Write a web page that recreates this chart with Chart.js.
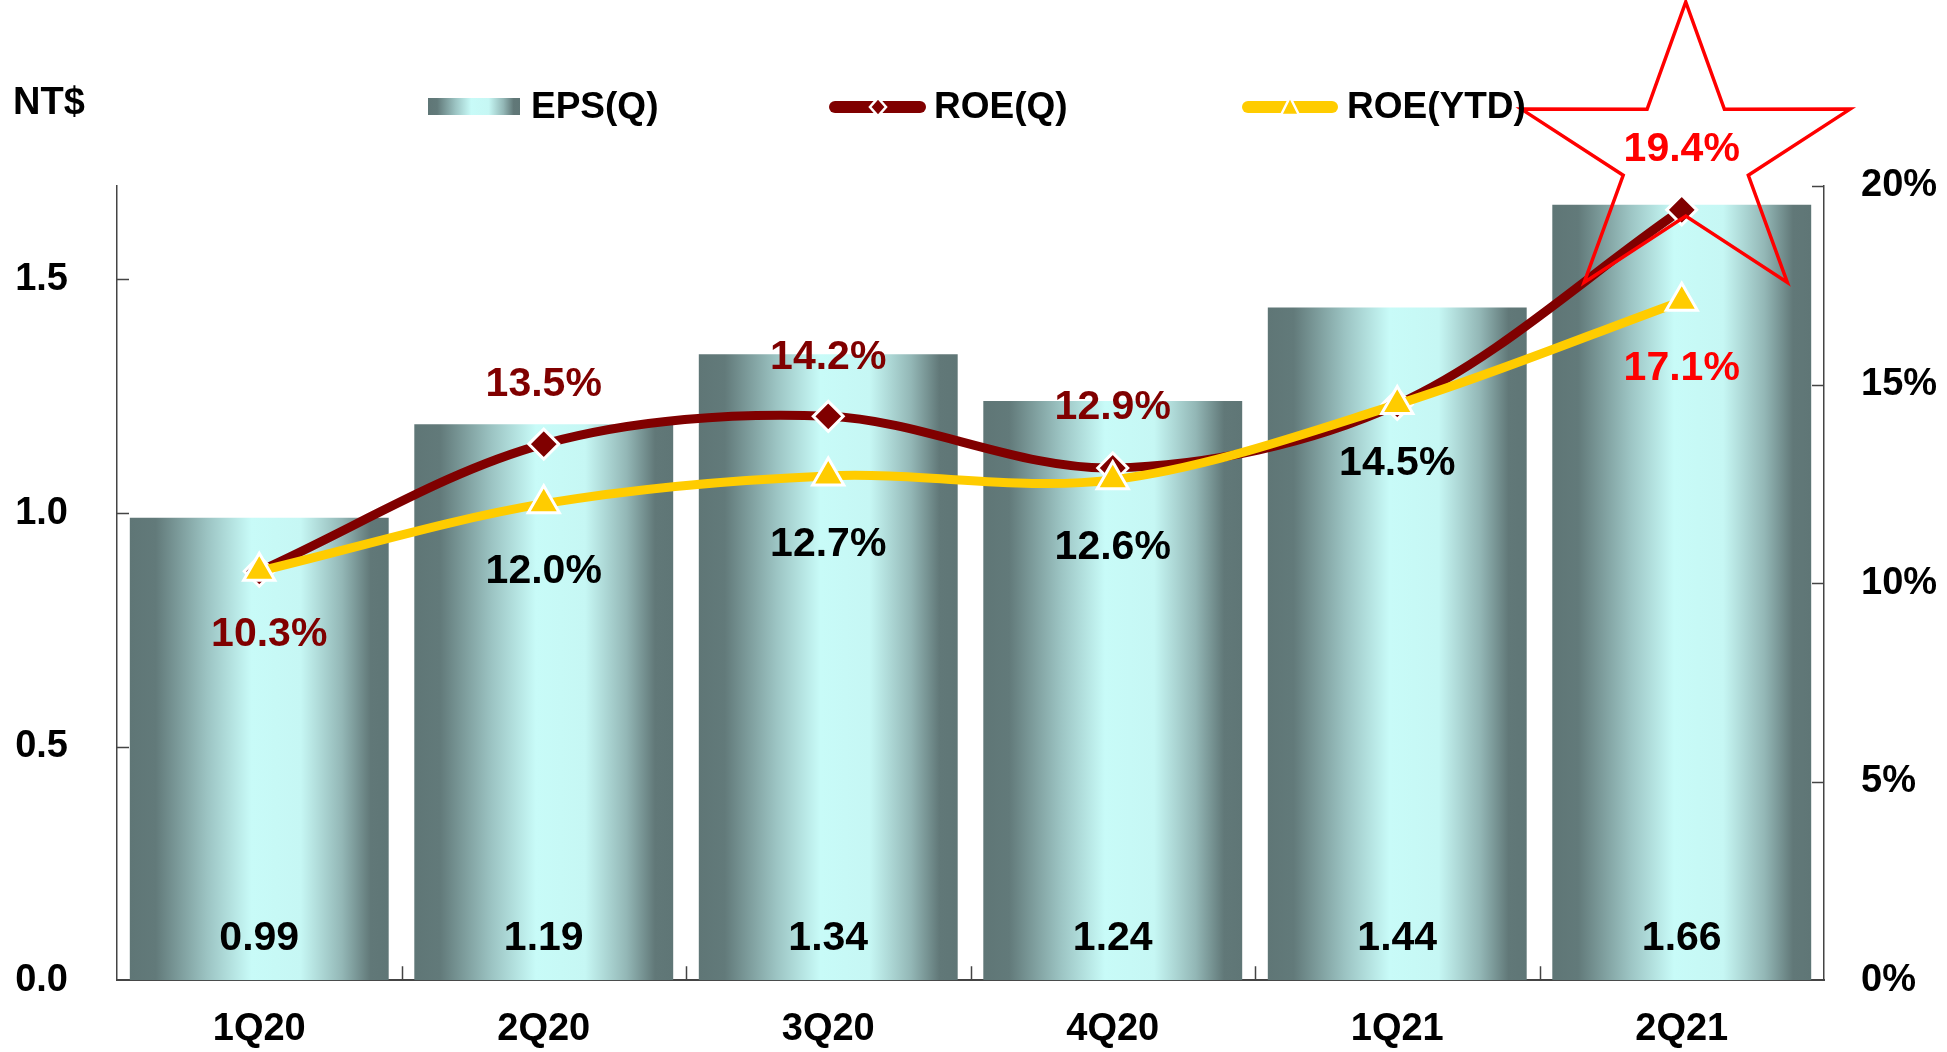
<!DOCTYPE html>
<html>
<head>
<meta charset="utf-8">
<script src="https://cdn.jsdelivr.net/npm/chart.js@4.4.0/dist/chart.umd.min.js"></script>
<style>
html,body{margin:0;padding:0;background:#fff;}
#wrap{width:1947px;height:1052px;}
</style>
</head>
<body>
<div id="wrap"><canvas id="c" width="1947" height="1052"></canvas></div>
<script>
// ---- data ----
const categories = ['1Q20', '2Q20', '3Q20', '4Q20', '1Q21', '2Q21'];
const epsQ = [0.99, 1.19, 1.34, 1.24, 1.44, 1.66];
const roeQ = [10.3, 13.5, 14.2, 12.9, 14.5, 19.4];
const roeYTD = [10.3, 12.0, 12.7, 12.6, 14.5, 17.1];
const leftTicks = [0, 0.5, 1.0, 1.5];
const rightTicks = [0, 5, 10, 15, 20];
const seriesNames = ['EPS(Q)', 'ROE(Q)', 'ROE(YTD)'];
const unitLabel = 'NT$';

// ---- styles (not data) ----
const FONT = "'Liberation Sans', Arial, sans-serif";
const DARKRED = '#800000';
const GOLD = '#FFCC00';
const AXIS = '#444444';
const roeQLabelStyle = [
  {c: DARKRED, dy: 64, dx: 10}, {c: DARKRED, dy: -59}, {c: DARKRED, dy: -59},
  {c: DARKRED, dy: -60}, null, {c: '#FF0000', dy: -60}
];
const roeYTDLabelStyle = [
  null, {c: '#000', dy: 68}, {c: '#000', dy: 69}, {c: '#000', dy: 68},
  {c: '#000', dy: 59}, {c: '#FF0000', dy: 68}
];
const BAR_PCT = 0.91;

function barGradient(ctx, x0, x1) {
  const g = ctx.createLinearGradient(x0, 0, x1, 0);
  g.addColorStop(0, '#5f7676');
  g.addColorStop(0.1, '#627a7a');
  g.addColorStop(0.3, '#9cc4c3');
  g.addColorStop(0.47, '#c8fbf8');
  g.addColorStop(0.66, '#c6f7f4');
  g.addColorStop(0.82, '#93b7b6');
  g.addColorStop(0.93, '#617878');
  g.addColorStop(1, '#5f7676');
  return g;
}

const decoPlugin = {
  id: 'deco',
  beforeDatasetsDraw(chart) {
    const ctx = chart.ctx;
    const xs = chart.scales.x, yl = chart.scales.y, yr = chart.scales.y1;
    const a = chart.chartArea;
    ctx.save();
    ctx.strokeStyle = AXIS;
    ctx.lineWidth = 1.5;
    ctx.beginPath();
    leftTicks.forEach(v => {
      if (v === 0) return;
      const y = Math.round(yl.getPixelForValue(v)) + 0.5;
      ctx.moveTo(a.left, y); ctx.lineTo(a.left + 12, y);
    });
    rightTicks.forEach(v => {
      if (v === 0) return;
      const y = Math.round(yr.getPixelForValue(v)) + 0.5;
      ctx.moveTo(a.right, y); ctx.lineTo(a.right - 12, y);
    });
    const cw = xs.width / categories.length;
    for (let k = 1; k < categories.length; k++) {
      const x = Math.round(xs.getPixelForValue(k) - cw / 2) + 0.5;
      ctx.moveTo(x, a.bottom); ctx.lineTo(x, a.bottom - 14);
    }
    ctx.stroke();
    ctx.restore();
  },
  afterDatasetsDraw(chart) {
    const ctx = chart.ctx;
    const xs = chart.scales.x;
    // star highlight around last ROE(Q) point
    const cx = xs.getPixelForValue(categories.length - 1) + 4;
    const cy = 157;
    const ro = 155, ri = 59, sx = 1.115;
    ctx.save();
    ctx.beginPath();
    for (let i = 0; i < 10; i++) {
      const r = i % 2 === 0 ? ro : ri;
      const ang = -Math.PI / 2 + i * Math.PI / 5;
      const px = cx + Math.cos(ang) * r * sx;
      const py = cy + Math.sin(ang) * r;
      if (i === 0) ctx.moveTo(px, py); else ctx.lineTo(px, py);
    }
    ctx.closePath();
    ctx.strokeStyle = '#FF0000';
    ctx.lineWidth = 3.5;
    ctx.lineJoin = 'miter';
    ctx.stroke();
    ctx.restore();

    ctx.save();
    ctx.textAlign = 'center';
    ctx.textBaseline = 'middle';
    // EPS labels
    ctx.font = 'bold 41px ' + FONT;
    ctx.fillStyle = '#000';
    chart.getDatasetMeta(0).data.forEach((el, i) => {
      ctx.fillText(epsQ[i].toFixed(2), el.x, el.base - 42);
    });
    // ROE labels
    chart.getDatasetMeta(1).data.forEach((el, i) => {
      const s = roeQLabelStyle[i]; if (!s) return;
      ctx.fillStyle = s.c;
      ctx.fillText(roeQ[i].toFixed(1) + '%', el.x + (s.dx || 0), el.y + s.dy);
    });
    chart.getDatasetMeta(2).data.forEach((el, i) => {
      const s = roeYTDLabelStyle[i]; if (!s) return;
      ctx.fillStyle = s.c;
      ctx.fillText(roeYTD[i].toFixed(1) + '%', el.x + (s.dx || 0), el.y + s.dy);
    });
    ctx.restore();
  },
  afterDraw(chart) {
    const ctx = chart.ctx;
    ctx.save();
    ctx.textBaseline = 'middle';
    ctx.textAlign = 'left';
    ctx.fillStyle = '#000';
    ctx.font = 'bold 38px ' + FONT;
    ctx.fillText(unitLabel, 13, 104);
    const ly = 107;
    // EPS legend box
    ctx.fillStyle = barGradient(ctx, 428, 520);
    ctx.fillRect(428, 98, 92, 17);
    ctx.fillStyle = '#000';
    ctx.font = 'bold 37px ' + FONT;
    ctx.fillText(seriesNames[0], 531, ly + 1);
    // ROE(Q) legend
    ctx.lineCap = 'round';
    ctx.lineWidth = 12;
    ctx.strokeStyle = DARKRED;
    ctx.beginPath(); ctx.moveTo(835, ly); ctx.lineTo(920, ly); ctx.stroke();
    ctx.fillStyle = DARKRED; ctx.strokeStyle = '#fff'; ctx.lineWidth = 2.5;
    ctx.beginPath();
    ctx.moveTo(878, ly - 9); ctx.lineTo(886, ly); ctx.lineTo(878, ly + 9); ctx.lineTo(870, ly); ctx.closePath();
    ctx.fill(); ctx.stroke();
    ctx.fillStyle = '#000';
    ctx.fillText(seriesNames[1], 934, ly + 1);
    // ROE(YTD) legend
    ctx.lineWidth = 12;
    ctx.strokeStyle = GOLD;
    ctx.beginPath(); ctx.moveTo(1248, ly); ctx.lineTo(1332, ly); ctx.stroke();
    ctx.fillStyle = GOLD; ctx.strokeStyle = '#fff'; ctx.lineWidth = 2.5;
    ctx.beginPath();
    ctx.moveTo(1290, ly - 10); ctx.lineTo(1299, ly + 8); ctx.lineTo(1281, ly + 8); ctx.closePath();
    ctx.fill(); ctx.stroke();
    ctx.fillStyle = '#000';
    ctx.fillText(seriesNames[2], 1347, ly + 1);
    ctx.restore();
  }
};

const tickFont = {family: FONT, size: 38, weight: 'bold'};

new Chart(document.getElementById('c'), {
  data: {
    labels: categories,
    datasets: [
      {
        type: 'bar', label: seriesNames[0], data: epsQ, yAxisID: 'y', order: 2,
        barPercentage: BAR_PCT, categoryPercentage: 1.0, borderWidth: 0,
        backgroundColor(c) {
          const chart = c.chart;
          const xs = chart.scales && chart.scales.x;
          if (!xs || !chart.chartArea || c.dataIndex === undefined) return '#9cc4c3';
          const cx = xs.getPixelForValue(c.dataIndex);
          const w = xs.width / categories.length * BAR_PCT;
          return barGradient(chart.ctx, cx - w / 2, cx + w / 2);
        }
      },
      {
        type: 'line', label: seriesNames[1], data: roeQ, yAxisID: 'y1', order: 1,
        borderColor: DARKRED, borderWidth: 9, tension: 0.33, fill: false,
        pointStyle: 'rectRot', pointRadius: 15, pointBackgroundColor: DARKRED,
        pointBorderColor: '#ffffff', pointBorderWidth: 3
      },
      {
        type: 'line', label: seriesNames[2], data: roeYTD, yAxisID: 'y1', order: 0,
        borderColor: GOLD, borderWidth: 9, tension: 0.33, fill: false,
        pointStyle: 'triangle', pointRadius: 18, pointBackgroundColor: GOLD,
        pointBorderColor: '#ffffff', pointBorderWidth: 3
      }
    ]
  },
  options: {
    responsive: false,
    animation: false,
    devicePixelRatio: 1,
    layout: {padding: {top: 186, left: 0, right: 0, bottom: 0}},
    plugins: {legend: {display: false}, tooltip: {enabled: false}, title: {display: false}},
    scales: {
      x: {
        type: 'category', offset: true,
        grid: {display: false, drawTicks: false},
        border: {display: true, color: AXIS, width: 2},
        ticks: {font: tickFont, color: '#000', padding: 27, maxRotation: 0},
        afterFit(s) { s.height = 71; }
      },
      y: {
        type: 'linear', position: 'left', min: 0, max: 1.7,
        grid: {display: false, drawTicks: false},
        border: {display: true, color: AXIS, width: 1.5},
        ticks: {font: tickFont, color: '#000', padding: 49, callback: v => Number(v).toFixed(1)},
        afterBuildTicks(s) { s.ticks = leftTicks.map(v => ({value: v})); },
        afterFit(s) { s.width = 117; }
      },
      y1: {
        type: 'linear', position: 'right', min: 0, max: 20,
        grid: {display: false, drawTicks: false},
        border: {display: true, color: AXIS, width: 1.5},
        ticks: {font: tickFont, color: '#000', padding: 37, callback: v => v + '%'},
        afterBuildTicks(s) { s.ticks = rightTicks.map(v => ({value: v})); },
        afterFit(s) { s.width = 123; }
      }
    }
  },
  plugins: [decoPlugin]
});
</script>
</body>
</html>
